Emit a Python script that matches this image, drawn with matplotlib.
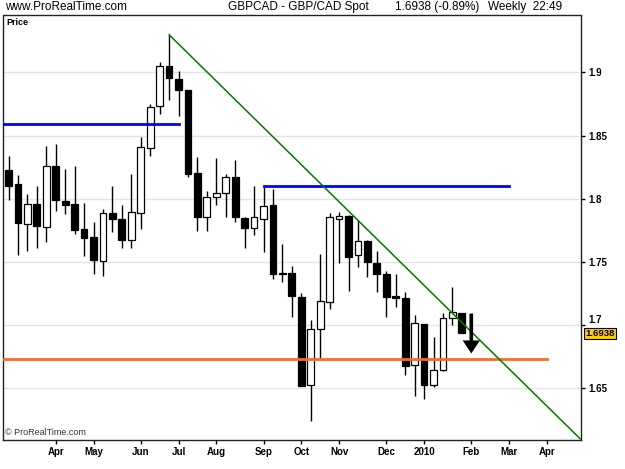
import datetime as dt
import matplotlib
matplotlib.use('Agg')
import matplotlib.pyplot as plt
import matplotlib.dates as mdates
from matplotlib.transforms import blended_transform_factory

# weekly candles GBP/CAD, weeks starting Sunday 1 Mar 2009
opens = [1.8230, 1.8117, 1.7803, 1.7956, 1.7774, 1.8262, 1.7985, 1.7956, 1.7763, 1.7700,
         1.7505, 1.7887, 1.7840, 1.7671, 1.7887, 1.8402, 1.8734, 1.9048, 1.8950, 1.8858,
         1.8204, 1.7856, 1.8014, 1.8046, 1.8175, 1.7848, 1.7769, 1.7840, 1.7948, 1.7400,
         1.7412, 1.7222, 1.6529, 1.6970, 1.7183, 1.7843, 1.7861, 1.7558, 1.7668, 1.7492,
         1.7400, 1.7233, 1.7215, 1.6680, 1.7009, 1.6527, 1.6645, 1.7057, 1.7096]
highs = [1.8336, 1.8191, 1.8038, 1.8104, 1.8420, 1.8433, 1.8238, 1.8257, 1.7967, 1.7816,
         1.7922, 1.8098, 1.7953, 1.8199, 1.8489, 1.8750, 1.9082, 1.9298, 1.9013, 1.8863,
         1.8333, 1.8064, 1.8325, 1.8199, 1.8309, 1.7853, 1.8098, 1.8095, 1.8077, 1.7642,
         1.7465, 1.7254, 1.7036, 1.7566, 1.7887, 1.7895, 1.7869, 1.7829, 1.7674, 1.7584,
         1.7426, 1.7400, 1.7262, 1.7083, 1.7009, 1.6904, 1.7096, 1.7299, 1.7096]
lows = [1.7988, 1.7552, 1.7584, 1.7611, 1.7658, 1.7901, 1.7880, 1.7721, 1.7545, 1.7400,
        1.7386, 1.7734, 1.7611, 1.7611, 1.7761, 1.8341, 1.8671, 1.8779, 1.8652, 1.8172,
        1.7742, 1.7742, 1.7948, 1.7853, 1.7814, 1.7611, 1.7716, 1.7576, 1.7365, 1.7339,
        1.7062, 1.6515, 1.6244, 1.6725, 1.7123, 1.7492, 1.7273, 1.7457, 1.7381, 1.7262,
        1.7065, 1.7141, 1.6601, 1.6437, 1.6411, 1.6508, 1.6640, 1.6999, 1.6938]
closes = [1.8098, 1.7808, 1.7956, 1.7787, 1.8262, 1.7988, 1.7951, 1.7756, 1.7692, 1.7513,
          1.7885, 1.7840, 1.7671, 1.7893, 1.8407, 1.8726, 1.9053, 1.8953, 1.8863, 1.8193,
          1.7853, 1.8014, 1.8048, 1.8172, 1.7853, 1.7769, 1.7856, 1.7945, 1.7400, 1.7413,
          1.7228, 1.6521, 1.6970, 1.7188, 1.7856, 1.7866, 1.7537, 1.7663, 1.7497, 1.7407,
          1.7220, 1.7215, 1.6672, 1.7020, 1.6529, 1.6648, 1.7057, 1.7104, 1.6938]
weeks = [dt.datetime(2009, 3, 1) + dt.timedelta(weeks=k) for k in range(len(opens))]

# drawn objects
res1 = 1.8594
res1_end = dt.datetime(2009, 7, 5)
res2 = 1.8098
res2_span = (dt.datetime(2009, 9, 6), dt.datetime(2010, 3, 7))
support = 1.6729
support_end = dt.datetime(2010, 4, 4)
trend_start = (dt.datetime(2009, 6, 28), 1.9298)
trend_slope = -0.007348  # per week
arrow_date = dt.datetime(2010, 2, 7)
arrow_top, arrow_tip = 1.7091, 1.6775

tick_dates = [dt.datetime(2009, m, d) for m, d in [(4, 5), (5, 3), (6, 7), (7, 5), (8, 2),
              (9, 6), (10, 4), (11, 1), (12, 6)]] + \
             [dt.datetime(2010, m, d) for m, d in [(1, 3), (2, 7), (3, 7), (4, 4)]]
tick_labels = ['Apr', 'May', 'Jun', 'Jul', 'Aug', 'Sep', 'Oct', 'Nov', 'Dec',
               '2010', 'Feb', 'Mar', 'Apr']
price_ticks = [1.65, 1.7, 1.75, 1.8, 1.85, 1.9]
last_price = 1.6938

plt.rcParams['font.family'] = ['Liberation Sans', 'DejaVu Sans']

fig = plt.figure(figsize=(6.25, 4.69), dpi=100)
ax = fig.add_axes([3 / 625, 29 / 469, 578 / 625, 424.5 / 469])

x0 = mdates.date2num(dt.datetime(2009, 4, 5))
ax.set_xlim(x0 - 39.1, x0 + 389.3)
ax.set_ylim(1.609, 1.945)

for v in price_ticks:
    ax.axhline(v, color='#e4e4e4', lw=1, zorder=0)

# candles
xs = mdates.date2num(weeks)
ax.vlines(xs, lows, highs, color='black', lw=1, zorder=2)
for x, o, c in zip(xs, opens, closes):
    fc = 'white' if c >= o else 'black'
    ax.bar(x, abs(c - o), bottom=min(o, c), width=5, color=fc,
           edgecolor='black', linewidth=0.9, zorder=3)

# lines
left = ax.get_xlim()[0]
ax.plot([left, mdates.date2num(res1_end)], [res1, res1], color='#0000ff', lw=2, zorder=4)
ax.plot(mdates.date2num(list(res2_span)), [res2, res2], color='#0000ff', lw=2, zorder=4)
ax.plot([left, mdates.date2num(support_end)], [support, support], color='#ff6a26', lw=2, zorder=4)
ts = mdates.date2num(trend_start[0])
te = ts + 7 * 50
ax.plot([ts, te], [trend_start[1], trend_start[1] + trend_slope * 50], color='#007a00',
        lw=1.1, zorder=4)

ax.arrow(mdates.date2num(arrow_date), arrow_top, 0, arrow_tip - arrow_top,
         width=2.7, head_width=12.8, head_length=0.0103, length_includes_head=True,
         fc='black', ec='black', lw=0, zorder=5)

# axes styling
ax.yaxis.tick_right()
ax.set_yticks(price_ticks)
ax.set_yticklabels(['%g' % v for v in price_ticks])
ax.set_xticks(mdates.date2num(tick_dates))
ax.set_xticklabels(tick_labels)
ax.tick_params(axis='both', direction='out', length=3, width=1, labelsize=7, pad=2)
for lab in ax.get_xticklabels() + ax.get_yticklabels():
    lab.set_fontweight('bold')
# nudge the 1.7 label up a little so the last-price box sits below it
ax.get_yticklabels()[1].set_va('bottom')
for s in ax.spines.values():
    s.set_linewidth(1)
    s.set_color('#222222')

ax.text(0.006, 0.993, 'Price', transform=ax.transAxes, fontsize=6.5, fontweight='bold',
        va='top', ha='left')
ax.text(0.004, 0.008, '© ProRealTime.com', transform=ax.transAxes, fontsize=6.5,
        color='#333333', va='bottom', ha='left')

tr = blended_transform_factory(ax.transAxes, ax.transData)
ax.text(1.008, last_price - 0.0006, '%.4f' % last_price, transform=tr, fontsize=6.8,
        fontweight='bold', va='center', ha='left', clip_on=False,
        bbox=dict(boxstyle='square,pad=0.12', fc='#ffcc00', ec='black', lw=0.8))

ty = 1 - 7 / 469
fig.text(5 / 625, ty, 'www.ProRealTime.com', fontsize=8.5, va='center', ha='left')
fig.text(228 / 625, ty, 'GBPCAD - GBP/CAD Spot', fontsize=8.5, va='center', ha='left')
fig.text(395 / 625, ty, '1.6938 (-0.89%)', fontsize=8.5, va='center', ha='left')
fig.text(488 / 625, ty, 'Weekly  22:49', fontsize=8.5, va='center', ha='left')

fig.savefig('out.png', dpi=100, facecolor='white')
